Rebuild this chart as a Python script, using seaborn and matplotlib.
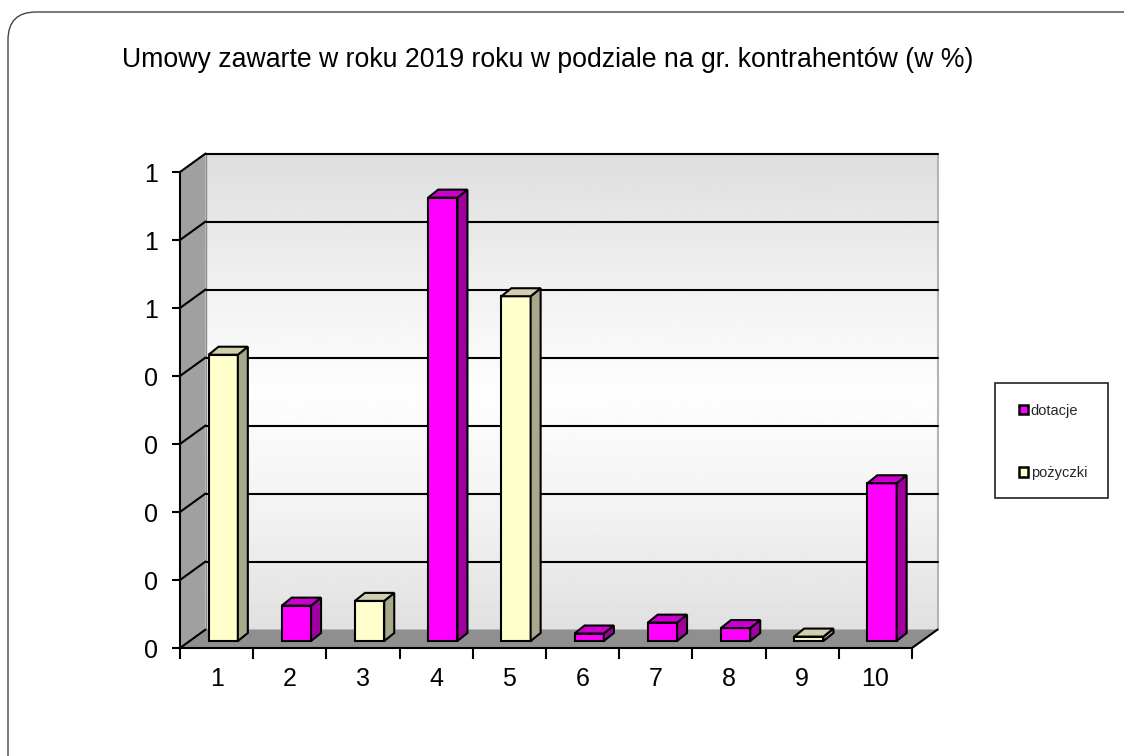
import numpy as np
import pandas as pd
import matplotlib
matplotlib.use("Agg")
import matplotlib.pyplot as plt
import matplotlib.transforms as mtransforms
from matplotlib.colors import to_hex
from matplotlib.patches import Polygon, Rectangle, FancyBboxPatch, Patch
from matplotlib.ticker import FuncFormatter
import seaborn as sns

# dane
categories = ["1", "2", "3", "4", "5", "6", "7", "8", "9", "10"]
values = [0.421, 0.052, 0.059, 0.652, 0.507, 0.011, 0.027, 0.019, 0.0065, 0.232]
groups = ["pożyczki", "dotacje", "pożyczki", "dotacje", "pożyczki",
          "dotacje", "dotacje", "dotacje", "pożyczki", "dotacje"]
series_names = ["dotacje", "pożyczki"]
y_ticks = [0.0, 0.1, 0.2, 0.3, 0.4, 0.5, 0.6, 0.7]
title = "Umowy zawarte w roku 2019 roku w podziale na gr. kontrahentów (w %)"

front_col = {"dotacje": "#ff00ff", "pożyczki": "#ffffcc"}
side_col = {"dotacje": "#a000a0", "pożyczki": "#a8a88a"}
top_col = {"dotacje": "#cc00cc", "pożyczki": "#d0d0ac"}

df = pd.DataFrame({"kategoria": categories, "wartosc": values, "grupa": groups})

sns.set_theme(style="white")
plt.rcParams["font.family"] = ["Liberation Sans", "DejaVu Sans"]

fig = plt.figure(figsize=(11.24, 7.56), dpi=100)
ax = fig.add_axes([180 / 1124, 108 / 756, 732 / 1124, 476 / 756])

sns.barplot(data=df, x="kategoria", y="wartosc", hue="grupa", hue_order=series_names,
            palette=front_col, saturation=1, dodge=False, width=0.4, edgecolor="black",
            linewidth=1.5, legend=False, ax=ax, zorder=3)
bars = [p for p in ax.patches if p.get_height() > 0]

n = len(categories)
x0, x1 = -0.5, n - 0.5
ymax = y_ticks[-1]
ax.set_xlim(x0, x1)
ax.set_ylim(0, ymax)


def px_to_data(px, py):
    inv = ax.transData.inverted()
    o = ax.transData.transform((0, 0))
    p = inv.transform((o[0] + px, o[1] + py))
    return p[0], p[1]


dx, dy = px_to_data(25.6, 18.5)   # głębokość ścian
bx, by = px_to_data(6.6, 7.0)     # przesunięcie przedniej ściany słupków
sx, sy = px_to_data(10, 8)        # głębokość słupka

# tylna ściana z gradientem
grad = np.interp(np.linspace(0, 1, 256), [0, 0.3, 0.5, 0.75, 1],
                 [0.87, 0.95, 0.995, 0.95, 0.88]).reshape(-1, 1)
ax.imshow(grad, cmap="gray", vmin=0, vmax=1, aspect="auto",
          extent=[x0 + dx, x1 + dx, dy, ymax + dy], origin="upper",
          zorder=0, clip_on=False)
ax.add_patch(Polygon([(x0, 0), (x0 + dx, dy), (x0 + dx, ymax + dy), (x0, ymax)],
                     closed=True, facecolor="#a0a0a0", edgecolor="none",
                     zorder=1, clip_on=False))
ax.add_patch(Polygon([(x0, 0), (x1, 0), (x1 + dx, dy), (x0 + dx, dy)],
                     closed=True, facecolor="#8f8f8f", edgecolor="none",
                     zorder=1, clip_on=False))
ax.plot([x1 + dx, x1 + dx], [dy, ymax + dy], color="#b4b4b4", lw=1.5,
        zorder=1.5, clip_on=False)
ax.plot([x0 + dx, x0 + dx], [dy, ymax + dy], color="#8a8a8a", lw=1,
        zorder=1.5, clip_on=False)
ax.plot([x1, x1 + dx], [0, dy], color="black", lw=1.5, zorder=1.6, clip_on=False)

# linie siatki
for t in y_ticks:
    ax.plot([x0, x0 + dx], [t, t + dy], color="black", lw=1.5, zorder=1.6, clip_on=False)
    if t > 0:
        ax.plot([x0 + dx, x1 + dx], [t + dy, t + dy], color="black", lw=1.5,
                zorder=1.6, clip_on=False)

# słupki 3D
hex_to_group = {to_hex(c): g for g, c in front_col.items()}
for p in bars:
    g = hex_to_group.get(to_hex(p.get_facecolor()), "dotacje")
    x, w, h = p.get_x() + bx, p.get_width(), p.get_height()
    p.set_x(x)
    p.set_y(by)
    p.set_clip_on(False)
    p.set_joinstyle("miter")
    ax.add_patch(Polygon([(x + w, by), (x + w + sx, by + sy), (x + w + sx, by + h + sy), (x + w, by + h)],
                         closed=True, facecolor=side_col[g], edgecolor="black", lw=1.5,
                         joinstyle="miter", zorder=3, clip_on=False))
    ax.add_patch(Polygon([(x, by + h), (x + sx, by + h + sy), (x + w + sx, by + h + sy), (x + w, by + h)],
                         closed=True, facecolor=top_col[g], edgecolor="black", lw=1.5,
                         joinstyle="miter", zorder=3, clip_on=False))

# osie
for s in ["top", "right"]:
    ax.spines[s].set_visible(False)
for s in ["left", "bottom"]:
    ax.spines[s].set_color("black")
    ax.spines[s].set_linewidth(1.5)
    ax.spines[s].set_zorder(4)

ax.set_yticks(y_ticks)
ax.yaxis.set_major_formatter(FuncFormatter(lambda v, pos: f"{int(np.floor(v + 0.5 + 1e-9))}"))
ax.set_xticks(np.arange(x0, x1 + 0.01, 1.0), labels=[])
ax.set_xticks(np.arange(n), labels=categories, minor=True)
ax.tick_params(axis="y", left=True, length=6, width=1.5, color="black",
               labelsize=18, pad=10, labelcolor="black")
ax.tick_params(axis="x", which="major", bottom=True, length=8, width=1.5,
               color="black", direction="out")
ax.tick_params(axis="x", which="minor", bottom=True, length=0, labelsize=18,
               pad=14, labelcolor="black")
ax.set_xlabel("")
ax.set_ylabel("")
ax.set_facecolor("none")

# tytuł
fig.text(548 / 1124, 1 - 60 / 756, title, ha="center", va="center",
         fontsize=19.2, color="black")

# legenda
ident = mtransforms.IdentityTransform()
fig.patches.append(Rectangle((995, 258), 113, 115, transform=ident,
                             facecolor="white", edgecolor="#222222", lw=1.2))
handles = [Patch(facecolor=front_col[s], edgecolor="black", linewidth=1.8)
           for s in series_names]
fig.legend(handles, series_names, loc="center", bbox_to_anchor=(1053, 756 - 442),
           bbox_transform=ident, frameon=False, fontsize=10.5, labelspacing=3.3,
           handlelength=0.6, handleheight=0.6, handletextpad=0.2, borderpad=0)

# zaokrąglona ramka
fig.patches.append(FancyBboxPatch((8, -30), 1150, 774, transform=ident,
                                  boxstyle="round,pad=0,rounding_size=28",
                                  facecolor="none", edgecolor="#444444", lw=1))

fig.savefig("out.png", dpi=100)
